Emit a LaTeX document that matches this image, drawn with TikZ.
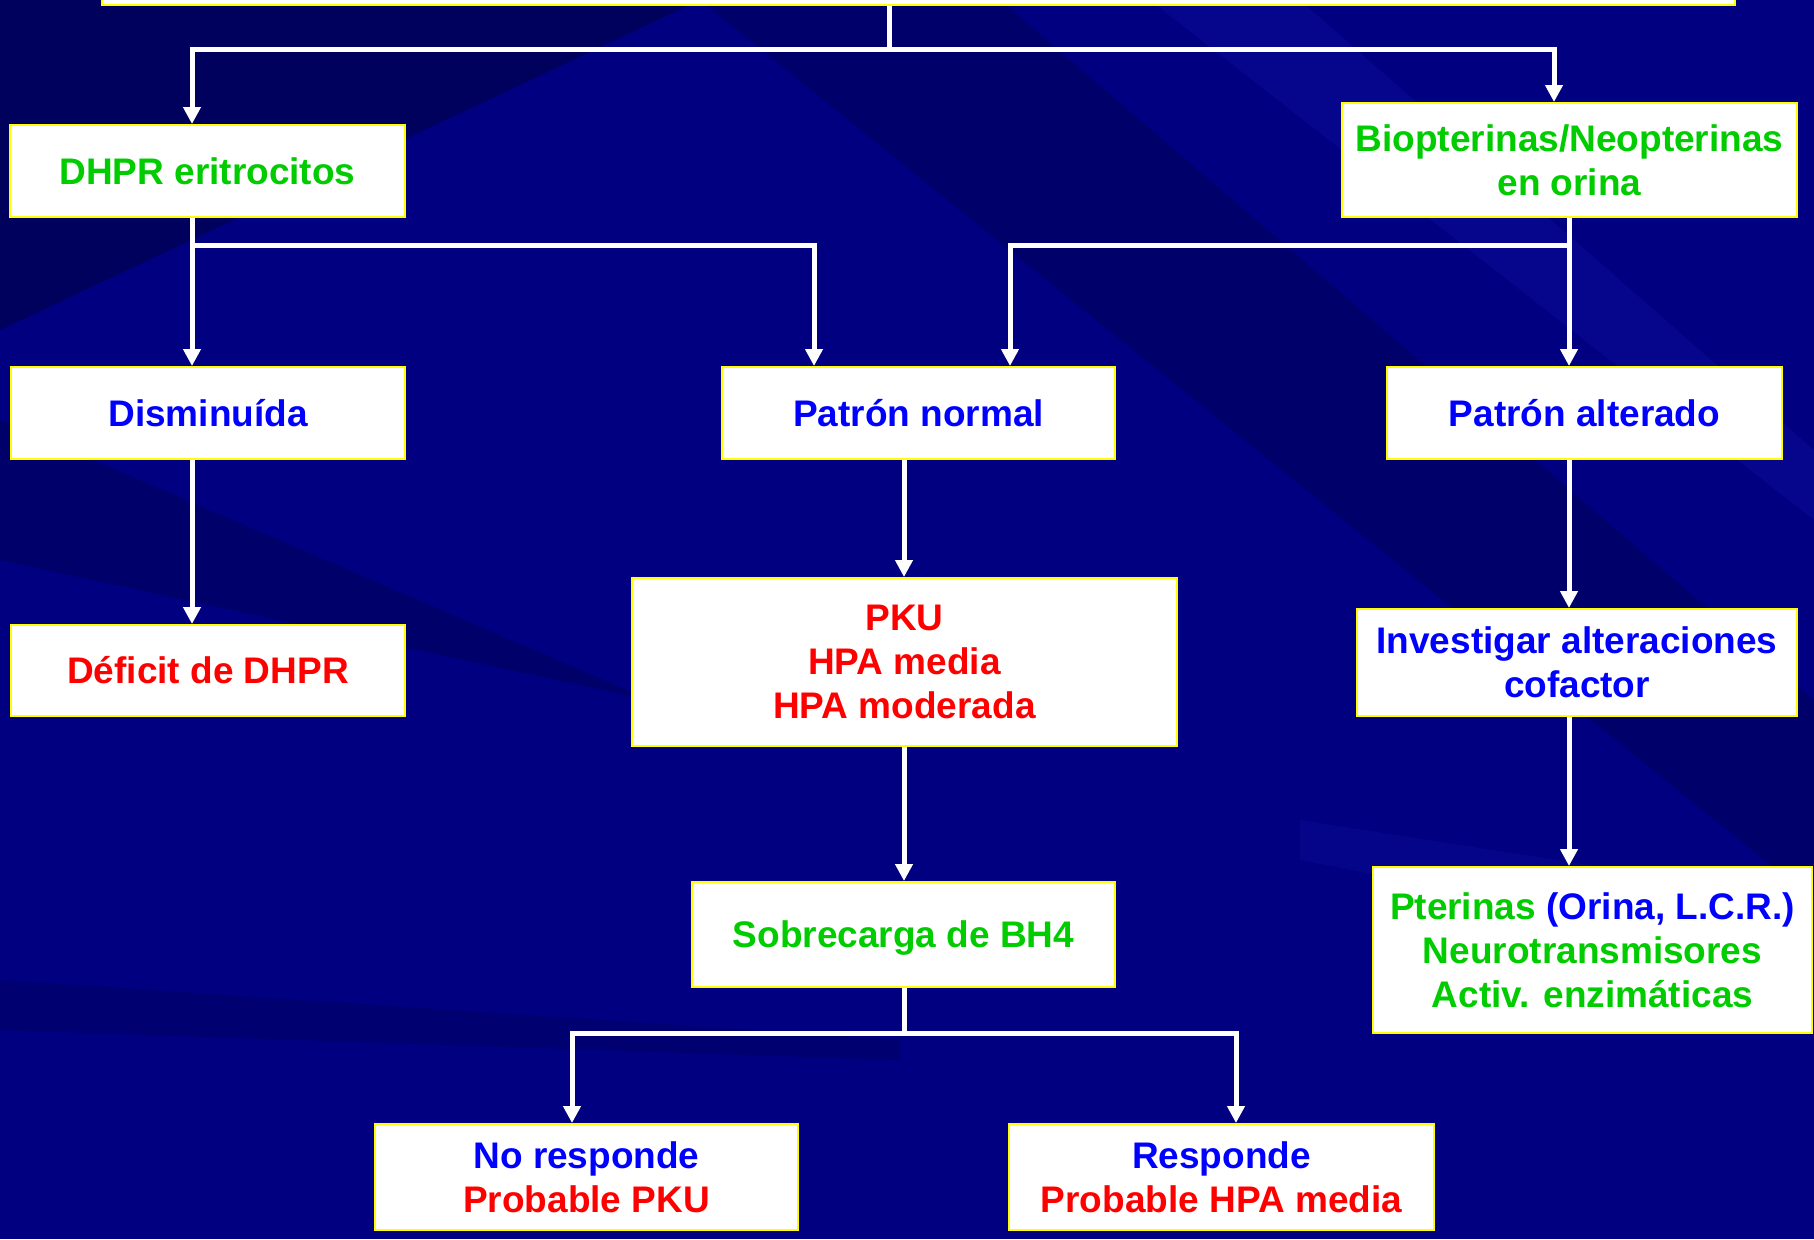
\documentclass[tikz,border=0pt]{standalone}
\usepackage{fontspec}
\setmainfont{Liberation Sans}
\usetikzlibrary{arrows.meta,calc}
\definecolor{bg}{RGB}{0,0,128}
\definecolor{bgdark}{RGB}{0,0,70}
\definecolor{bglight}{RGB}{20,20,170}
\definecolor{tgreen}{RGB}{0,204,0}
\definecolor{tblue}{RGB}{0,0,255}
\definecolor{tred}{RGB}{255,0,0}
\definecolor{byellow}{RGB}{255,255,0}
\begin{document}
\begin{tikzpicture}[x=1pt,y=-1pt,
  box/.style={draw=byellow, fill=white, line width=2pt, inner sep=0pt, align=center,
    font=\fontsize{37}{44}\selectfont\bfseries},
  conn/.style={draw=white, line width=5pt, line join=miter},
  arr/.style={conn, -{Triangle[length=17pt,width=17pt]}}]
\useasboundingbox (0,0) rectangle (1814,1239);
\clip (0,0) rectangle (1814,1239);
% background
\fill[bg] (0,0) rectangle (1814,1239);
\fill[bgdark, opacity=0.6] (0,0) -- (700,0) -- (0,330) -- cycle;
\fill[bgdark, opacity=0.35] (700,0) -- (1000,0) -- (1814,700) -- (1814,900) -- cycle;
\fill[bgdark, opacity=0.35] (0,420) -- (650,700) -- (0,560) -- cycle;
\fill[bgdark, opacity=0.25] (0,980) -- (900,1040) -- (900,1060) -- (0,1030) -- cycle;
\fill[bglight, opacity=0.3] (1150,0) -- (1300,0) -- (1814,450) -- (1814,520) -- cycle;
\fill[bglight, opacity=0.25] (1300,820) -- (1814,900) -- (1814,960) -- (1300,860) -- cycle;
% nodes
\node[box, minimum width=1633, minimum height=80] (top) at (918.5,-35) {};
\node[box, minimum width=395, minimum height=92] (dhpr) at (207.5,171) {\color{tgreen}DHPR eritrocitos};
\node[box, minimum width=455, minimum height=114] (bio) at (1569.5,160) {\color{tgreen}Biopterinas/Neopterinas\\\color{tgreen}en orina};
\node[box, minimum width=394, minimum height=92] (dism) at (208,413) {\color{tblue}Disminuída};
\node[box, minimum width=393, minimum height=92] (pnorm) at (918.5,413) {\color{tblue}Patrón normal};
\node[box, minimum width=395, minimum height=92] (palt) at (1584.5,413) {\color{tblue}Patrón alterado};
\node[box, minimum width=394, minimum height=91] (defic) at (208,670.5) {\color{tred}Déficit de DHPR};
\node[box, minimum width=545, minimum height=168] (pku) at (904.5,662) {\color{tred}PKU\\\color{tred}HPA media\\\color{tred}HPA moderada};
\node[box, minimum width=440, minimum height=107] (invest) at (1577,662.5) {\color{tblue}Investigar alteraciones\\\color{tblue}cofactor};
\node[box, minimum width=423, minimum height=105, text depth=0pt] (sobre) at (903.5,934.5) {\color{tgreen}Sobrecarga de BH4};
\node[box, minimum width=439, minimum height=166] (pter) at (1592.5,950) {{\color{tgreen}Pterinas }{\color{tblue}(Orina, L.C.R.)}\\\color{tgreen}Neurotransmisores\\\color{tgreen}Activ. enzimáticas};
\node[box, minimum width=423, minimum height=106] (nores) at (586.5,1177) {\color{tblue}No responde\\\color{tred}Probable PKU};
\node[box, minimum width=425, minimum height=106] (resp) at (1221.5,1177) {\color{tblue}Responde\\\color{tred}Probable HPA media};
% helper coordinates
\coordinate (xT) at (889,0);
\coordinate (xL) at (192,0);
\coordinate (xR) at (1554,0);
\coordinate (xN1) at (814,0);
\coordinate (xN2) at (1010,0);
\coordinate (xC) at (904,0);
\coordinate (xRC) at (1569,0);
\coordinate (xNo) at (572,0);
\coordinate (xSi) at (1236,0);
\coordinate (yA) at (0,50);
\coordinate (yB) at (0,245);
\coordinate (yC) at (0,1033);
% connectors
\draw[arr] (top.south -| xT) -- (xT |- yA) -| (dhpr.north -| xL);
\draw[arr] (top.south -| xT) -- (xT |- yA) -| (bio.north -| xR);
\draw[arr] (dhpr.south -| xL) -- (dism.north -| xL);
\draw[arr] (dhpr.south -| xL) -- (xL |- yB) -| (pnorm.north -| xN1);
\draw[arr] (bio.south -| xRC) -- (palt.north -| xRC);
\draw[arr] (bio.south -| xRC) -- (xRC |- yB) -| (pnorm.north -| xN2);
\draw[arr] (dism.south -| xL) -- (defic.north -| xL);
\draw[arr] (pnorm.south -| xC) -- (pku.north -| xC);
\draw[arr] (pku.south -| xC) -- (sobre.north -| xC);
\draw[arr] (palt.south -| xRC) -- (invest.north -| xRC);
\draw[arr] (invest.south -| xRC) -- (pter.north -| xRC);
\draw[arr] (sobre.south -| xC) -- (xC |- yC) -| (nores.north -| xNo);
\draw[arr] (sobre.south -| xC) -- (xC |- yC) -| (resp.north -| xSi);
\end{tikzpicture}
\end{document}
